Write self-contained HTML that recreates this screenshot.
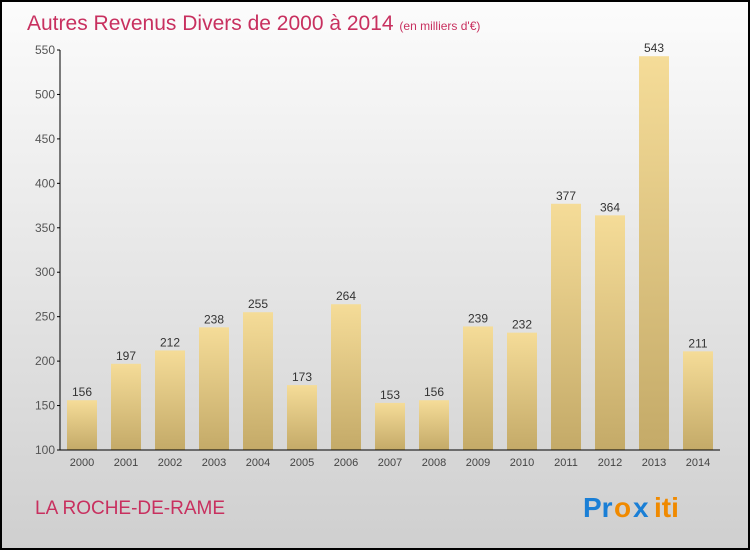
<!DOCTYPE html>
<html><head><meta charset="utf-8"><style>
html,body{margin:0;padding:0}
body{width:750px;height:550px;overflow:hidden;font-family:"Liberation Sans",sans-serif}
</style></head><body>
<svg width="750" height="550" viewBox="0 0 750 550" xmlns="http://www.w3.org/2000/svg">
<defs>
<linearGradient id="bg" x1="0" y1="0" x2="0" y2="1"><stop offset="0" stop-color="#fcfcfc"/><stop offset="1" stop-color="#cfcfcf"/></linearGradient>
<linearGradient id="bar" x1="0" y1="0" x2="0" y2="1"><stop offset="0" stop-color="#f5dc98"/><stop offset="1" stop-color="#c4aa68"/></linearGradient>
</defs>
<rect x="1" y="1" width="748" height="548" fill="url(#bg)" stroke="#000" stroke-width="2"/>
<text x="27" y="30" font-size="21" fill="#c8305f">Autres Revenus Divers de 2000 à 2014 <tspan font-size="12">(en milliers d'€)</tspan></text>
<g id="plot"></g>
<text x="35" y="514" font-size="19" fill="#c8305f">LA ROCHE-DE-RAME</text>
<g font-size="28" font-weight="bold" font-family="'Liberation Sans',sans-serif">
<text x="583" y="517" fill="#1a7fd6">Pr</text><text x="614" y="517" fill="#f08a00">o</text><text x="633" y="517" fill="#1a7fd6">x</text><text x="654" y="517" fill="#f08a00">iti</text>
</g>
</svg>
<script>
const categories=["2000","2001","2002","2003","2004","2005","2006","2007","2008","2009","2010","2011","2012","2013","2014"];
const values=[156,197,212,238,255,173,264,153,156,239,232,377,364,543,211];
const yTicks=[100,150,200,250,300,350,400,450,500,550];
const NS="http://www.w3.org/2000/svg";
const g=document.getElementById('plot');
const y=v=>450-(v-100)*400/450;
const x=i=>82+44*i;
function el(t,a){const e=document.createElementNS(NS,t);for(const k in a)e.setAttribute(k,a[k]);g.appendChild(e);return e;}
values.forEach((v,i)=>{
 const r=el('rect',{x:x(i)-15,y:y(v),width:30,height:450-y(v),fill:'url(#bar)'});
 
 
 const t=el('text',{x:x(i),y:y(v)-4,'text-anchor':'middle','font-size':12,fill:'#333'});
 t.textContent=v;
 
 
 const c=el('text',{x:x(i),y:466,'text-anchor':'middle','font-size':11,fill:'#444'});
 c.textContent=categories[i];
 
 
});
yTicks.forEach(v=>{
 const l=el('line',{x1:57,x2:60,y1:y(v),y2:y(v),stroke:'#000'});
 
 
 const t=el('text',{x:55,y:y(v)+4,'text-anchor':'end','font-size':12,fill:'#555'});
 t.textContent=v;
 
 
});
const ya=el('line',{x1:60,x2:60,y1:50,y2:450,stroke:'#000'});


const xa=el('line',{x1:60,x2:720,y1:450,y2:450,stroke:'#000'});


</script>
</body></html>
